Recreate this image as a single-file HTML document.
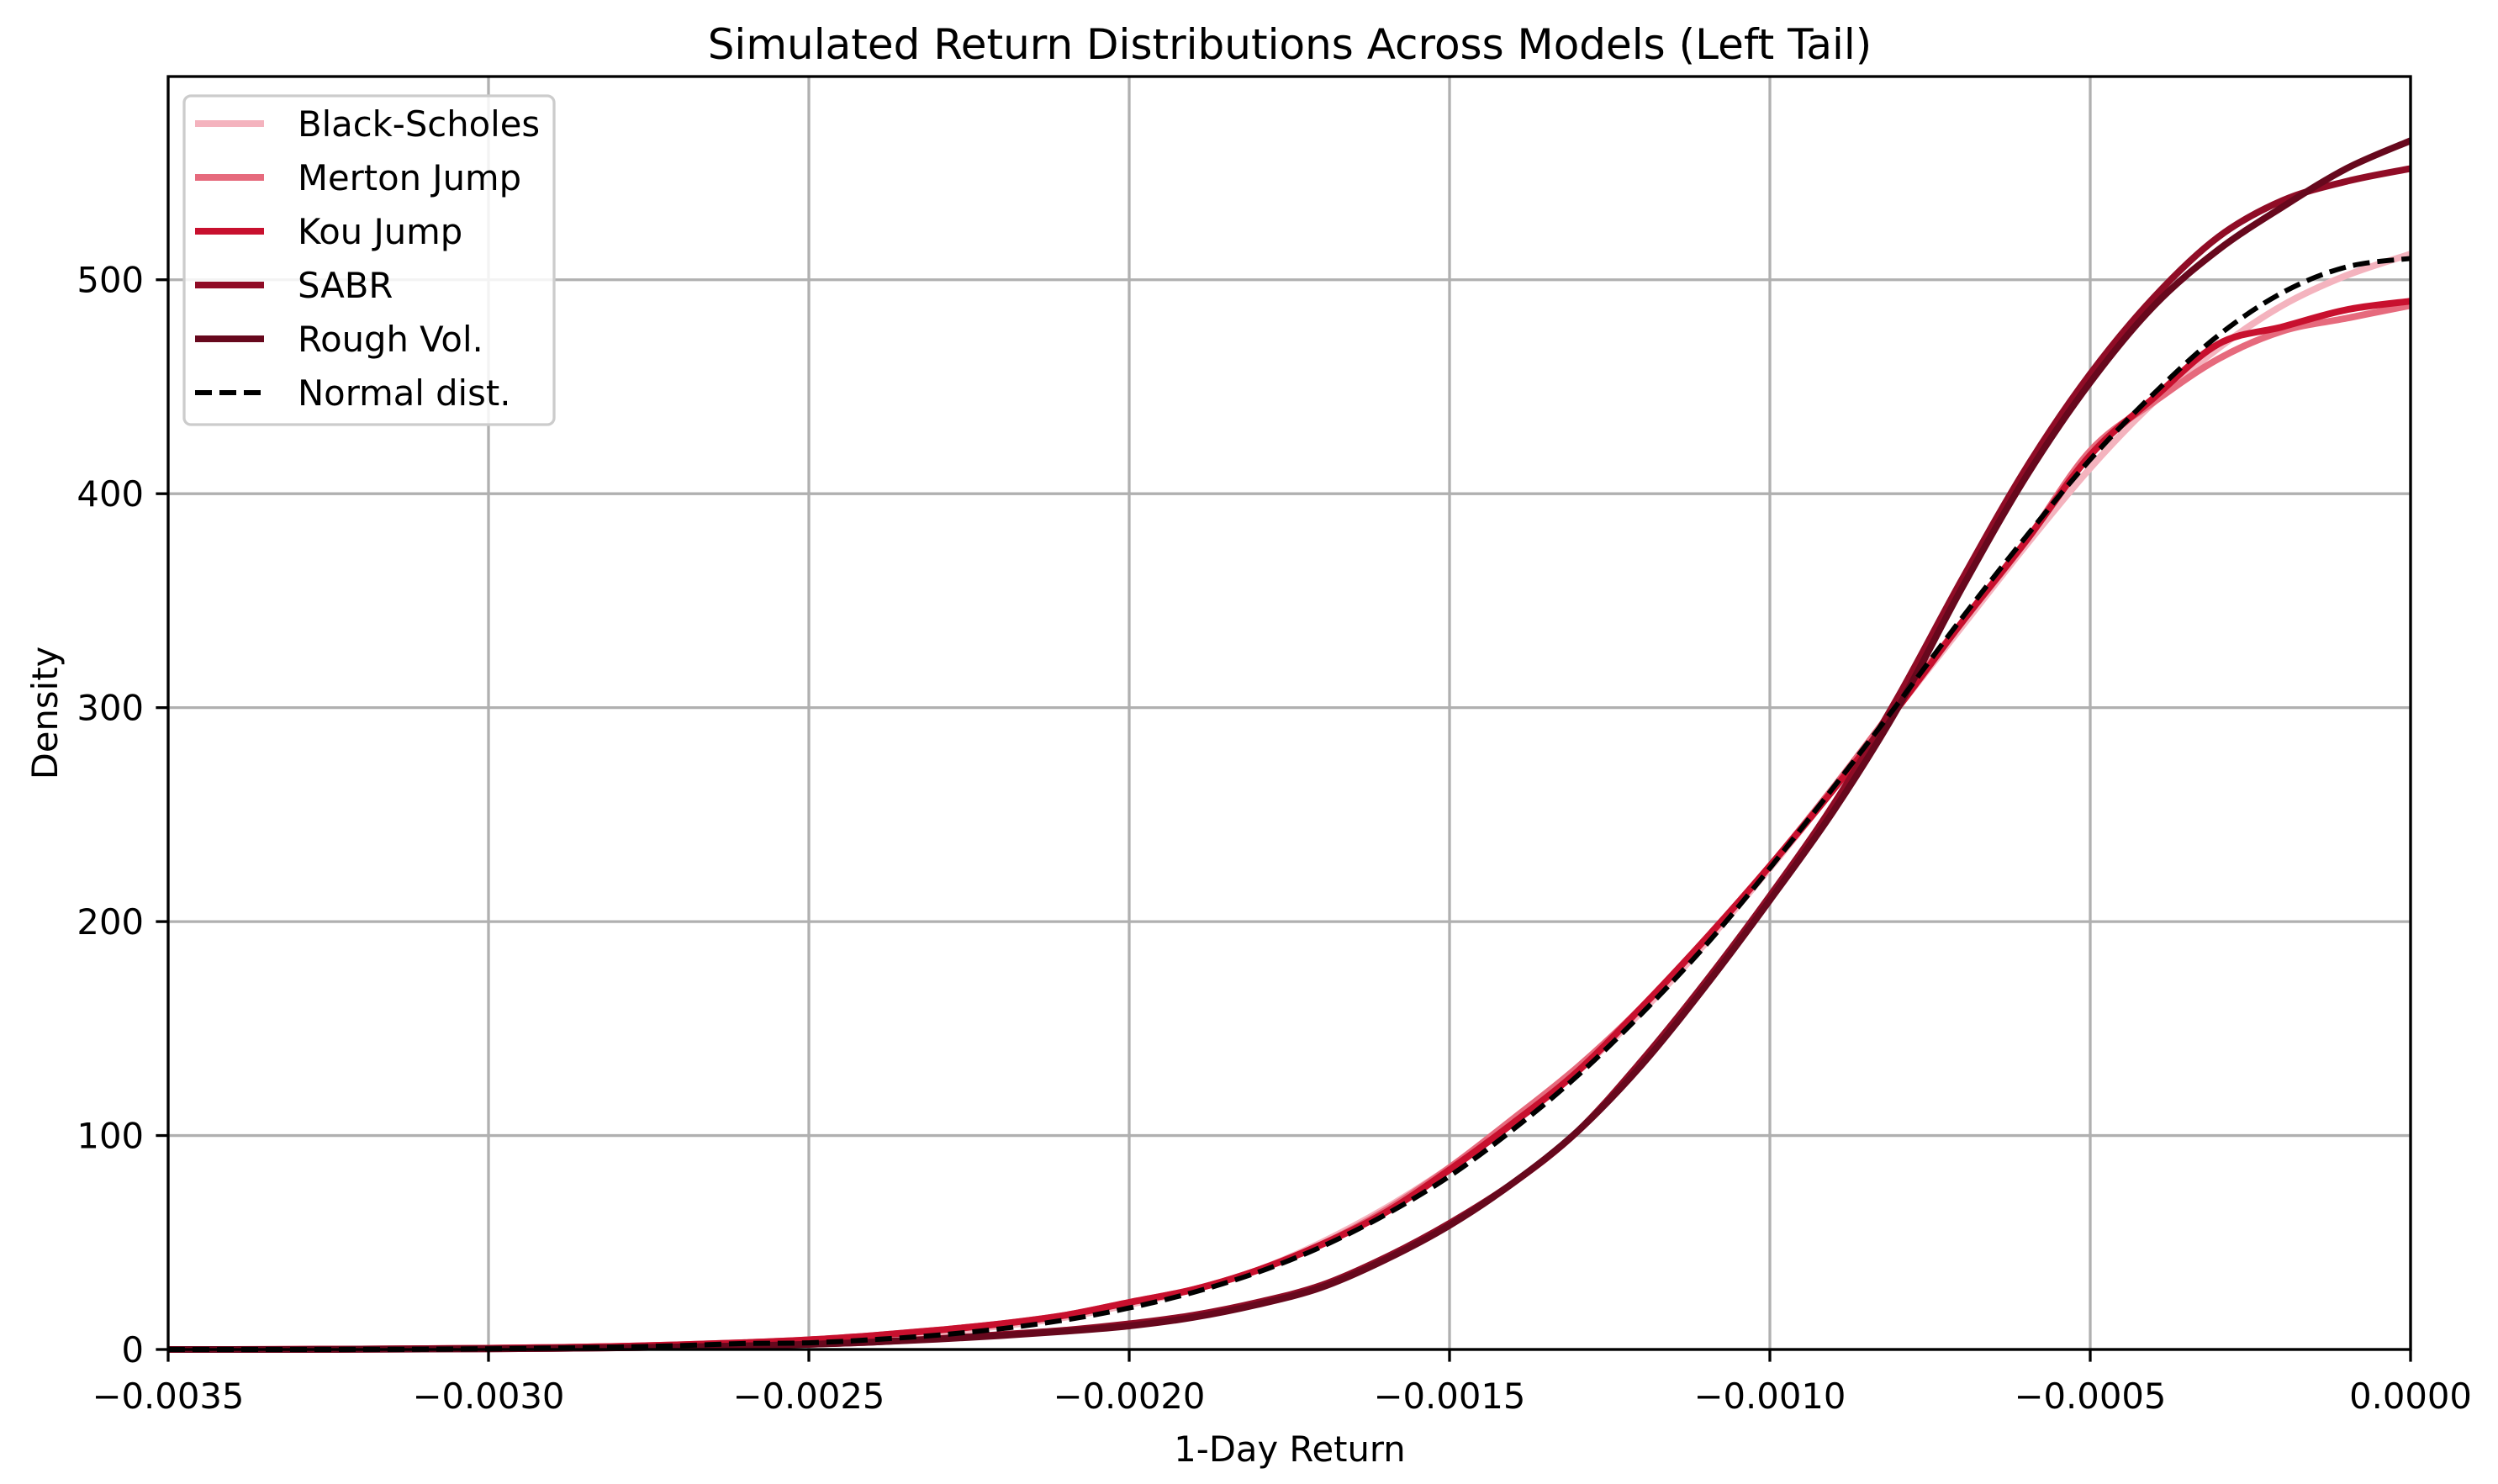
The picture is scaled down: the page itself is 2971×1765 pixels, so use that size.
<!DOCTYPE html>
<html><head><meta charset="utf-8"><style>
html,body{margin:0;padding:0;background:#fff;}
svg{display:block;font-family:"DejaVu Sans","Liberation Sans",sans-serif;}
</style></head><body>
<svg id="chart" width="2971" height="1765" xmlns="http://www.w3.org/2000/svg">
<rect width="2971" height="1765" fill="#fff"/>
<g id="grid"></g>
<g id="series"></g>
<rect x="200" y="91" width="2667" height="1514" fill="none" stroke="#000" stroke-width="3.3"/>
<g id="ticks"></g>
<text x="1534" y="70" font-size="50" text-anchor="middle">Simulated Return Distributions Across Models (Left Tail)</text>
<text x="1534" y="1738" font-size="41.7" text-anchor="middle">1-Day Return</text>
<text x="0" y="0" font-size="41.7" text-anchor="middle" transform="translate(68,848) rotate(-90)">Density</text>
<g id="legend"></g>
</svg>
<script>
const xs = [-0.0035,-0.0034,-0.0033,-0.0032,-0.0031,-0.0030,-0.0029,-0.0028,-0.0027,-0.0026,-0.0025,-0.0024,-0.0023,-0.0022,-0.0021,-0.0020,-0.0019,-0.0018,-0.0017,-0.0016,-0.0015,-0.0014,-0.0013,-0.0012,-0.0011,-0.0010,-0.0009,-0.0008,-0.0007,-0.0006,-0.0005,-0.0004,-0.0003,-0.0002,-0.0001,0];
const blackScholes = [0,0,0.1,0.2,0.4,0.6,0.9,1.4,2,3,4,6,8,11,15,21,28,37,50,66,85,107,130,158,190,225,262,300,338,376,412,443,468,488,502,512];
const merton = [0,0,0.1,0.2,0.4,0.6,0.9,1.4,2.2,3.2,4.5,6.5,9,12,16,22,28,37,49,65,85,108,132,160,192,226,263,302,340,378,420,443,463,476,482,488];
const kou = [0,0,0.1,0.2,0.4,0.6,0.9,1.4,2.2,3.2,4.5,6.5,9,12,16,22,28,37,49,64,84,106,130,160,192,226,262,300,340,378,418,445,470,478,486,490];
const sabr = [0,0,0,0.1,0.2,0.3,0.5,0.8,1.2,1.7,2.4,3.4,5,7,9,12,16,22,30,43,59,78,102,135,172,212,255,305,360,412,456,492,520,537,546,552];
const rough = [0,0,0,0.1,0.2,0.3,0.5,0.8,1.2,1.7,2.4,3.4,4.8,6.5,8.5,11,15,21,29,42,58,78,102,133,170,210,252,300,356,408,452,488,514,534,552,565];
const normal = [0,0,0.01,0.03,0.1,0.3,0.6,1.1,1.8,2.8,3.1,4.6,6.7,9.7,13.8,19.4,26.7,36,48,63,81,103,128,157,189,225,263,302,342,380,416,447,474,494,506,510];
const seriesNames = ["Black-Scholes","Merton Jump","Kou Jump","SABR","Rough Vol.","Normal dist."];
const xTicks = [-0.0035,-0.0030,-0.0025,-0.0020,-0.0015,-0.0010,-0.0005,0];
const xTickLabels = ["\u22120.0035","\u22120.0030","\u22120.0025","\u22120.0020","\u22120.0015","\u22120.0010","\u22120.0005","0.0000"];
const yTicks = [0,100,200,300,400,500];

const NS="http://www.w3.org/2000/svg";
const L=200,R=2867,T=91,B=1605,XMIN=-0.0035,XMAX=0,YMIN=0,YMAX=595;
function sx(v){return L+(v-XMIN)/(XMAX-XMIN)*(R-L);}
function sy(v){return B-(v-YMIN)/(YMAX-YMIN)*(B-T);}
function mk(tag,attrs,parent){const e=document.createElementNS(NS,tag);for(const k in attrs)e.setAttribute(k,attrs[k]);parent.appendChild(e);return e;}
function smooth(pts){let d='M'+pts[0][0].toFixed(1)+','+pts[0][1].toFixed(1);for(let i=0;i<pts.length-1;i++){const p0=pts[Math.max(0,i-1)],p1=pts[i],p2=pts[i+1],p3=pts[Math.min(pts.length-1,i+2)];const c1x=p1[0]+(p2[0]-p0[0])/6,c1y=p1[1]+(p2[1]-p0[1])/6,c2x=p2[0]-(p3[0]-p1[0])/6,c2y=p2[1]-(p3[1]-p1[1])/6;d+=' C'+c1x.toFixed(1)+','+c1y.toFixed(1)+' '+c2x.toFixed(1)+','+c2y.toFixed(1)+' '+p2[0].toFixed(1)+','+p2[1].toFixed(1);}return d;}
const grid=document.getElementById('grid'),ticks=document.getElementById('ticks'),ser=document.getElementById('series'),leg=document.getElementById('legend');
xTicks.forEach((v,i)=>{
  const g=mk('line',{x1:sx(v),x2:sx(v),y1:T,y2:B,stroke:'#b0b0b0','stroke-width':3.3},grid);
  
  
  const t=mk('line',{x1:sx(v),x2:sx(v),y1:B,y2:B+14.6,stroke:'#000','stroke-width':3.3},ticks);
  
  
  const tx=mk('text',{x:sx(v),y:B+70,'font-size':41.7,'text-anchor':'middle'},ticks);
  tx.textContent=xTickLabels[i];
  
  
});
yTicks.forEach(v=>{
  const g=mk('line',{x1:L,x2:R,y1:sy(v),y2:sy(v),stroke:'#b0b0b0','stroke-width':3.3},grid);
  
  
  const t=mk('line',{x1:L-14.6,x2:L,y1:sy(v),y2:sy(v),stroke:'#000','stroke-width':3.3},ticks);
  
  
  const tx=mk('text',{x:L-29,y:sy(v)+15,'font-size':41.7,'text-anchor':'end'},ticks);
  tx.textContent=String(v);
  
  
});
const data=[blackScholes,merton,kou,sabr,rough,normal];
const colors=["#f4b3be","#e66a7d","#c8102e","#900c26","#67081d","#000"];
const keys=["black-scholes","merton-jump","kou-jump","sabr","rough-vol","normal-dist"];
data.forEach((d,i)=>{
  const pts=d.map((y,j)=>[sx(xs[j]),sy(y)]);
  const p=mk('path',{d:smooth(pts),fill:'none',stroke:colors[i],'stroke-width':i==5?6:8,'stroke-linejoin':'round'},ser);
  if(i==5)p.setAttribute('stroke-dasharray','20,9');
  
  
});
const box=mk('rect',{x:219,y:114,width:440,height:391,rx:8,fill:'#fff','fill-opacity':0.85,stroke:'#ccc','stroke-width':3.3},leg);


seriesNames.forEach((n,i)=>{
  const y=147+i*64;
  const l=mk('line',{x1:232,x2:314,y1:y,y2:y,stroke:colors[i],'stroke-width':i==5?6:8},leg);
  if(i==5)l.setAttribute('stroke-dasharray','20,9');
  
  
  const t=mk('text',{x:354,y:y+15,'font-size':41.7},leg);
  t.textContent=n;
  
  
});
</script>
</body></html>
